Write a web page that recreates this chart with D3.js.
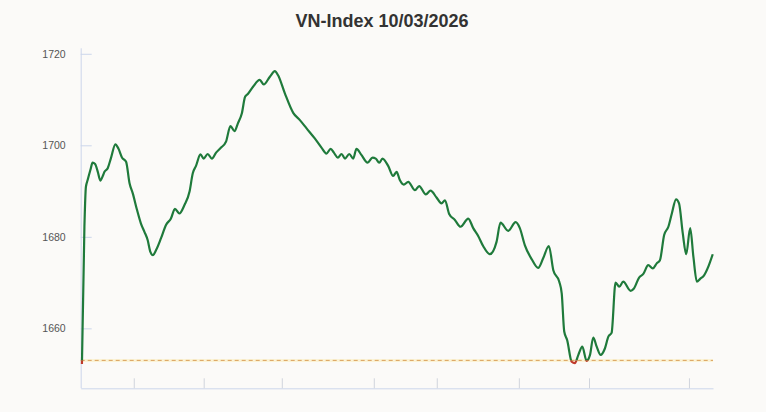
<!DOCTYPE html>
<html><head><meta charset="utf-8">
<script src="https://cdn.jsdelivr.net/npm/d3@7/dist/d3.min.js"></script>
<style>html,body{margin:0;padding:0;background:#fbfaf8;}svg{display:block;}</style>
</head><body><svg id="c" width="766" height="412"></svg>
<script>
const title = "VN-Index 10/03/2026";
const refValue = 1653.0;
const yTicks = [1660, 1680, 1700, 1720];
const xTicks = [21.4, 49.6, 81.1, 118.2, 143.6, 176.7, 205.0, 245.3];
const times = [0.5,1.5,2.1,2.8,3.9,4.8,5.8,6.9,7.9,8.9,9.6,10.9,12.2,14.0,15.2,16.7,18.3,19.7,21.0,22.7,24.3,25.7,27.0,28.1,29.1,30.4,32.4,34.4,36.4,38.0,39.8,41.8,43.9,45.2,46.5,48.3,49.6,51.2,52.9,54.6,56.6,58.6,60.4,62.0,63.4,65.0,66.3,67.4,69.5,72.2,73.8,76.3,78.3,79.6,82.3,85.7,88.4,91.1,94.4,97.1,99.1,100.8,102.1,103.7,105.2,106.6,108.3,109.9,111.2,113.2,115.7,117.7,119.0,120.4,121.7,124.0,126.0,127.4,128.7,130.3,132.1,134.8,136.5,139.2,141.1,143.5,145.5,146.9,148.6,150.9,153.2,156.3,158.3,160.3,162.3,165.0,167.7,169.3,172.4,175.4,177.1,179.1,181.9,184.5,186.5,188.8,190.6,193.0,194.0,195.0,196.2,198.0,199.3,200.7,202.3,204.0,205.4,206.7,208.1,209.7,211.4,212.8,214.1,215.7,217.2,218.8,221.8,223.1,225.2,226.9,228.9,230.7,232.3,233.6,235.3,237.0,238.4,240.1,241.3,242.8,244.2,245.8,247.1,248.5,249.8,251.4,253.2,254.9];
const values = [1652.2,1682.2,1690.9,1692.4,1694.6,1696.2,1695.9,1694.2,1692.3,1693.3,1694.2,1695.0,1697.2,1700.2,1699.3,1697.3,1696.4,1691.7,1689.5,1685.9,1682.9,1681.1,1679.3,1676.7,1676.0,1677.1,1679.7,1682.6,1684.0,1686.1,1685.1,1686.9,1689.9,1693.9,1695.5,1698.0,1697.1,1698.1,1697.1,1698.4,1699.5,1700.8,1704.2,1703.1,1704.8,1707.0,1710.6,1711.2,1712.8,1714.3,1713.3,1715.0,1716.2,1715.3,1711.4,1707.1,1705.5,1703.7,1701.5,1699.5,1698.2,1699.2,1698.4,1697.3,1698.1,1697.1,1698.1,1697.1,1699.2,1697.9,1696.2,1697.3,1697.1,1696.2,1697.1,1695.5,1693.3,1694.2,1692.4,1691.4,1692.0,1690.2,1691.1,1689.3,1690.1,1688.6,1687.3,1688.0,1685.0,1683.7,1682.2,1684.0,1681.9,1680.2,1678.0,1676.2,1678.9,1683.1,1681.3,1683.2,1681.9,1678.2,1675.1,1673.2,1675.3,1678.0,1672.7,1670.2,1667.6,1659.3,1657.4,1652.7,1652.4,1654.2,1656.0,1652.9,1654.2,1658.0,1656.0,1654.2,1655.6,1658.2,1659.0,1670.0,1669.1,1670.2,1668.2,1668.7,1671.1,1671.9,1673.8,1673.1,1674.2,1674.9,1680.4,1682.2,1685.1,1688.2,1687.3,1680.8,1676.2,1681.9,1675.6,1670.2,1670.8,1671.6,1673.6,1676.2];

const data = times.map((t, i) => ({t, v: values[i]}));
const svg = d3.select("#c");
const L = 80.7, R = 713, T = 48.3, B = 388.3;
const x = d3.scaleLinear().domain([0, 255]).range([L, R]);
const y = d3.scaleLinear().domain([1646.9, 1721.2]).range([B, T]);

svg.append("text").attr("x", 382).attr("y", 26.5).attr("text-anchor", "middle")
  .attr("font-family", "'Liberation Sans', Arial, sans-serif").attr("font-weight", "bold")
  .attr("font-size", 18).attr("fill", "#333").text(title);

// y axis
const ya = svg.append("g").attr("transform", `translate(${L},0)`)
  .call(d3.axisRight(y).tickValues(yTicks).tickSize(11).tickSizeOuter(0).tickFormat(d3.format("d")));
ya.select(".domain").attr("stroke", "#ccd6eb");
ya.selectAll(".tick line").attr("stroke", "#ccd6eb");
ya.selectAll(".tick text").attr("x", -15).attr("text-anchor", "end")
  .attr("font-family", "'Liberation Sans', Arial, sans-serif").attr("font-size", 10.5).attr("fill", "#555");
ya.select(".domain").attr("d", `M0.5,${T}V${B}`);

// x axis
const xa = svg.append("g").attr("transform", `translate(0,${B})`)
  .call(d3.axisTop(x).tickValues(xTicks).tickSize(10).tickSizeOuter(0).tickFormat(""));
xa.select(".domain").attr("stroke", "#ccd6eb");
xa.selectAll(".tick line").attr("stroke", "#d0d4dc");

// reference line
const ry = y(refValue);
svg.append("line").attr("x1", L).attr("x2", R).attr("y1", ry).attr("y2", ry)
  .attr("stroke", "#fbf1c8").attr("stroke-width", 3).attr("opacity", 0.7);
svg.append("line").attr("x1", L).attr("x2", R).attr("y1", ry).attr("y2", ry)
  .attr("stroke", "#d9a05b").attr("stroke-width", 1).attr("stroke-dasharray", "4,3");

// clip paths
const defs = svg.append("defs");
defs.append("clipPath").attr("id", "above").append("rect")
  .attr("x", 0).attr("y", 0).attr("width", 766).attr("height", ry);
defs.append("clipPath").attr("id", "below").append("rect")
  .attr("x", 0).attr("y", ry).attr("width", 766).attr("height", 412 - ry);

const line = d3.line().x(d => x(d.t)).y(d => y(d.v)).curve(d3.curveMonotoneX);
svg.append("path").datum(data).attr("d", line).attr("fill", "none")
  .attr("stroke", "#1f7a3b").attr("stroke-width", 2.2).attr("stroke-linejoin", "round")
  .attr("clip-path", "url(#above)");
svg.append("path").datum(data).attr("d", line).attr("fill", "none")
  .attr("stroke", "#c0392b").attr("stroke-width", 2.2).attr("stroke-linejoin", "round")
  .attr("clip-path", "url(#below)");
</script></body></html>
